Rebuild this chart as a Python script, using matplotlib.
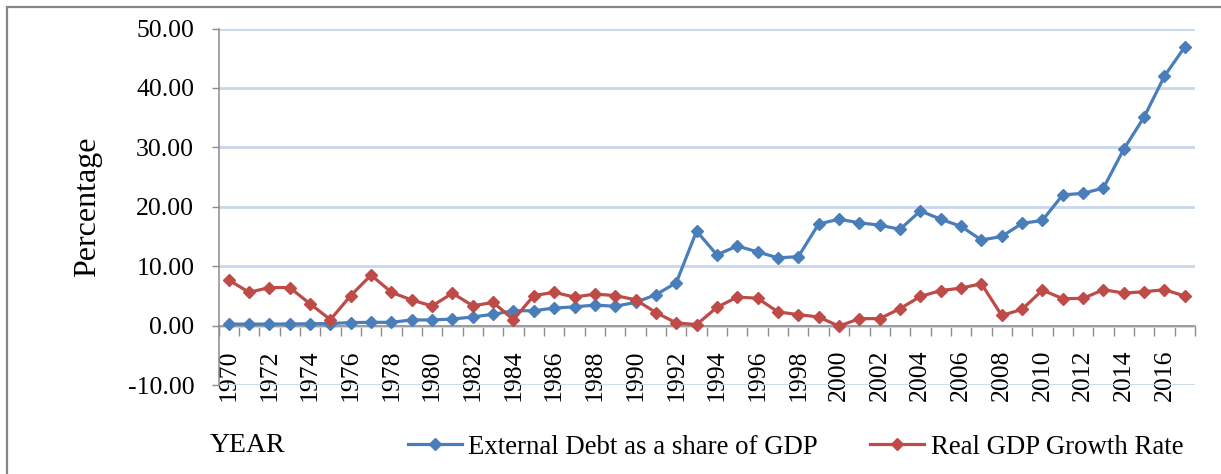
import numpy as np
import matplotlib
matplotlib.use("Agg")
import matplotlib.pyplot as plt
from matplotlib.patches import Rectangle

plt.rcParams["font.family"] = ["Liberation Serif", "DejaVu Serif"]
plt.rcParams["axes.unicode_minus"] = False

years = list(range(1970, 2018))
external_debt = [
    0.25, 0.25, 0.25, 0.28, 0.3, 0.35, 0.5, 0.55, 0.55, 0.95,
    0.95, 1.1, 1.45, 1.9, 2.5, 2.5, 2.95, 3.15, 3.45, 3.25,
    3.9, 5.2, 7.2, 15.9, 11.9, 13.4, 12.4, 11.4, 11.6, 17.1,
    17.9, 17.3, 16.9, 16.2, 19.3, 17.9, 16.7, 14.4, 15.0, 17.2,
    17.7, 22.0, 22.25, 23.15, 29.7, 35.1, 42.0, 46.9,
]
gdp_growth = [
    7.67, 5.6, 6.4, 6.4, 3.67, 1.0, 5.05, 8.5, 5.6, 4.3,
    3.3, 5.45, 3.33, 3.9, 1.0, 5.05, 5.6, 4.8, 5.3, 5.05,
    4.35, 2.2, 0.45, 0.17, 3.07, 4.8, 4.6, 2.3, 1.85, 1.45,
    -0.1, 1.17, 1.17, 2.85, 4.9, 5.9, 6.3, 7.05, 1.7, 2.73,
    5.97, 4.53, 4.58, 6.04, 5.47, 5.7, 6.04, 4.97,
]

BLUE = "#4A7EBB"
RED = "#BE4B48"
GRID = "#C8D6EE"
AXIS = "#8C8C8C"
FS = 18.5

W, H = 1221, 474
fig = plt.figure(figsize=(W / 100, H / 100), dpi=100)
ax = fig.add_axes([218.5 / W, 1 - 385 / H, (1195 - 218.5) / W, (385 - 28.5) / H])

x = np.arange(len(years))
ax.plot(x, external_debt, color=BLUE, lw=2.3, marker="D", ms=6.5,
        label="External Debt as a share of GDP", zorder=3)
ax.plot(x, gdp_growth, color=RED, lw=2.3, marker="D", ms=6.5,
        label="Real GDP Growth Rate", zorder=3)

ax.set_xlim(-0.5, len(years) - 0.5)
ax.set_ylim(-10, 50)
ax.set_yticks(np.arange(-10, 51, 10))
ax.set_yticklabels([f"{v:.2f}" for v in np.arange(-10, 51, 10)])
ax.yaxis.grid(True, color=GRID, lw=2)
ax.set_axisbelow(True)

# tick marks between categories, labels on every second year
ax.set_xticks(np.arange(-0.5, len(years), 1))
ax.set_xticklabels([])
ax.set_xticks(x[::2], minor=True)
ax.set_xticklabels([str(y) for y in years[::2]], minor=True)
ax.tick_params(axis="x", which="major", length=7, width=1, color=AXIS, direction="out")
ax.tick_params(axis="x", which="minor", length=0, pad=17, labelsize=FS, labelrotation=90)
ax.tick_params(axis="y", length=5, width=1, color=AXIS, pad=12.5, labelsize=FS)

for side in ("top", "right"):
    ax.spines[side].set_visible(False)
ax.spines["bottom"].set_position(("data", 0))
for side in ("left", "bottom"):
    ax.spines[side].set_color(AXIS)
    ax.spines[side].set_linewidth(1.1)

fig.text(88 / W, 1 - 207 / H, "Percentage", rotation=90, ha="center", va="center", fontsize=23)
fig.text(210 / W, 1 - 445 / H, "YEAR", ha="left", va="center", fontsize=20)

fig.legend(loc="center left", bbox_to_anchor=(408 / W, 1 - 447 / H), ncol=2, frameon=False,
           fontsize=19.3, handlelength=2.0, handletextpad=0.25, columnspacing=1.95,
           borderpad=0, borderaxespad=0, markerscale=0.9)

fig.add_artist(Rectangle((7 / W, -0.2), 1.5, 1.2 - 7 / H, transform=fig.transFigure,
                         fill=False, edgecolor="#858585", lw=1.6))

fig.savefig("out.png", dpi=100)
